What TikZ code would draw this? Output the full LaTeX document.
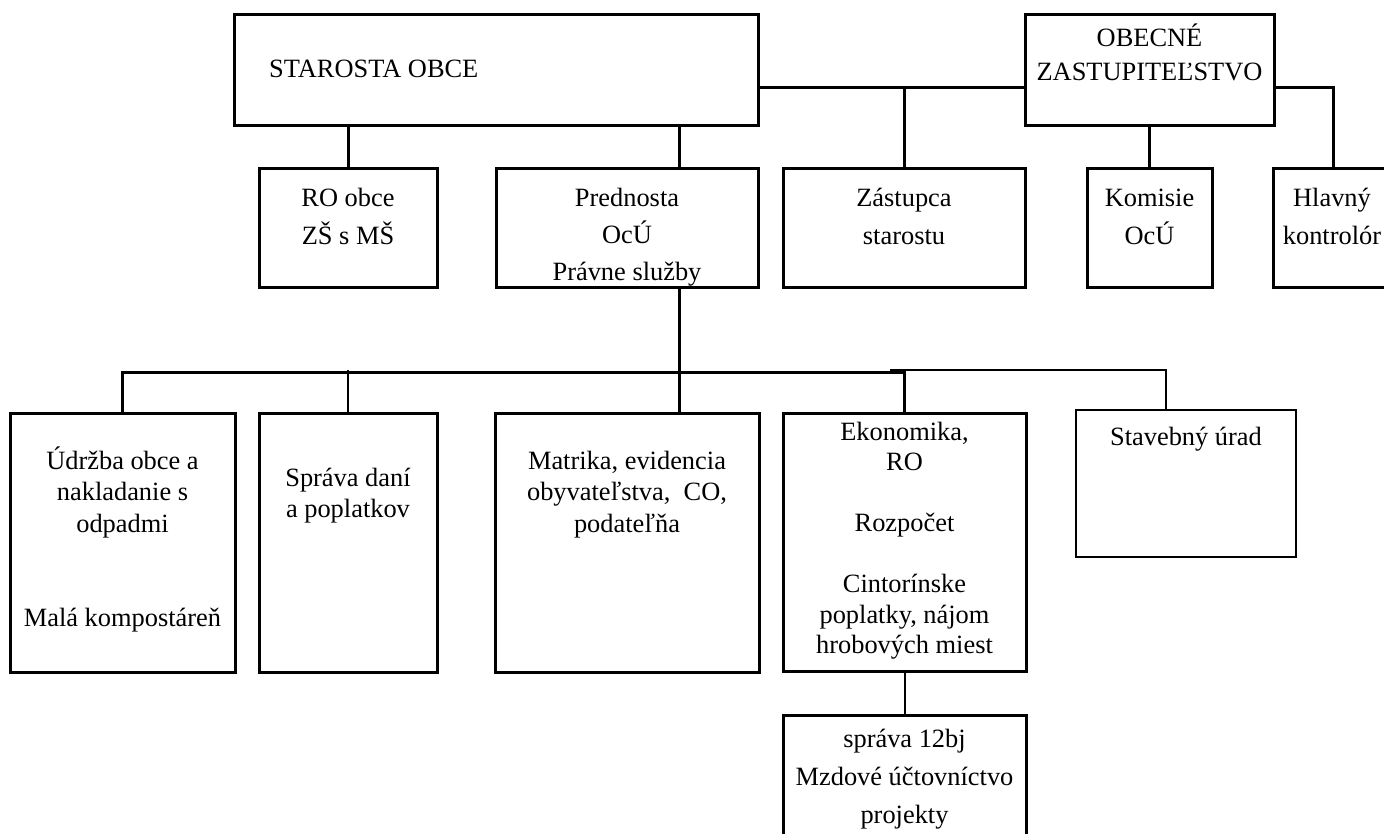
\documentclass[tikz,border=0pt]{standalone}
\usepackage{fontspec}
\setmainfont{Liberation Serif}

\begin{document}
\begin{tikzpicture}[x=1pt, y=-1pt,
  box/.style={draw, line width=3pt, inner sep=0pt},
  link/.style={line width=3pt},
  thin link/.style={line width=1.4pt},
  mid link/.style={line width=2pt},
  label text/.style={anchor=base, align=center, inner sep=0pt, font=\fontsize{26.4}{#1}\selectfont},
  label text/.default=38]

\useasboundingbox (0,0) rectangle (1384,834);
\clip (0,0) rectangle (1384,834);

% top row
\node[box, minimum width=524pt, minimum height=111pt] (starosta) at (496,70.5) {};
\node[box, minimum width=249pt, minimum height=111pt] (obecne) at (1149.5,70.5) {};

% second row
\node[box, minimum width=178pt, minimum height=119pt] (rada) at (348,228.5) {};
\node[box, minimum width=262pt, minimum height=119pt] (prednosta) at (627,228.5) {};
\node[box, minimum width=242pt, minimum height=119pt] (zastupca) at (904,228.5) {};
\node[box, minimum width=125pt, minimum height=119pt] (komisie) at (1149.5,228.5) {};
\node[box, minimum width=120pt, minimum height=119pt] (hlavny) at (1333,228.5) {};

% third row
\node[box, minimum width=225pt, minimum height=259pt] (udrzba) at (122.5,542.5) {};
\node[box, minimum width=178pt, minimum height=259pt] (sprava) at (348,542.5) {};
\node[box, minimum width=264pt, minimum height=259pt] (matrika) at (627,542.5) {};
\node[box, minimum width=243pt, minimum height=258pt] (ekonomika) at (904.5,542) {};
\node[box, line width=2pt, minimum width=220pt, minimum height=147pt] (stavebny) at (1186,483.5) {};
\node[box, minimum width=243pt, minimum height=140pt] (projekty) at (904.5,785) {};

% texts (base = last line)
\node[label text, anchor=base west] (starosta-t) at (269,78) {STAROSTA OBCE};
\node[label text=34] (obecne-t) at (1149.5,81) {OBECNÉ\\ZASTUPITEĽSTVO};
\node[label text] (rada-t) at (348,245) {RO obce\\ZŠ s MŠ};
\node[label text=37] (prednosta-t) at (627,281) {Prednosta\\OcÚ\\Právne služby};
\node[label text] (zastupca-t) at (904,245) {Zástupca\\starostu};
\node[label text] (komisie-t) at (1149.5,245) {Komisie\\OcÚ};
\node[label text] (hlavny-t) at (1332,245) {Hlavný\\kontrolór};
\node[label text=31.5] (udrzba-t) at (122.5,626.5) {Údržba obce a\\nakladanie s\\odpadmi\\[63pt]Malá kompostáreň};
\node[label text=31] (sprava-t) at (348,517) {Správa daní\\a poplatkov};
\node[label text=31.5] (matrika-t) at (627,532) {Matrika, evidencia\\obyvateľstva,\ \ CO,\\podateľňa};
\node[label text=30.5] (ekonomika-t) at (904.5,653.5) {Ekonomika,\\RO\\[30.5pt]Rozpočet\\[30.5pt]Cintorínske\\poplatky, nájom\\hrobových miest};
\node[label text] (stavebny-t) at (1186,445) {Stavebný úrad};
\node[label text] (projekty-t) at (904.5,823) {správa 12bj\\Mzdové účtovníctvo\\projekty};

% connectors
\coordinate (topbus) at (0,88);
\coordinate (spine) at (679,372);
\coordinate (substart) at (890,370);
\coordinate (subbus) at (1166,370);

\draw[link] (starosta.east |- topbus) -- (obecne.west |- topbus);
\draw[link] (zastupca.north |- topbus) -- (zastupca.north);
\draw[link] (obecne.east |- topbus) -| (hlavny.north);
\draw[link] (obecne.south) -- (komisie.north);
\draw[link] (rada.north |- starosta.south) -- (rada.north);
\draw[link] (starosta.south -| spine) -- (prednosta.north -| spine);
\draw[link] (prednosta.south -| spine) -- (matrika.north -| spine);
\draw[link] (udrzba.north) |- (spine) -| (ekonomika.north);
\draw[thin link] (sprava.north |- subbus) -- (sprava.north);
\draw[thin link] (substart) -- (subbus) -- (stavebny.north -| subbus);
\draw[mid link] (ekonomika.south) -- (projekty.north);

\end{tikzpicture}
\end{document}
